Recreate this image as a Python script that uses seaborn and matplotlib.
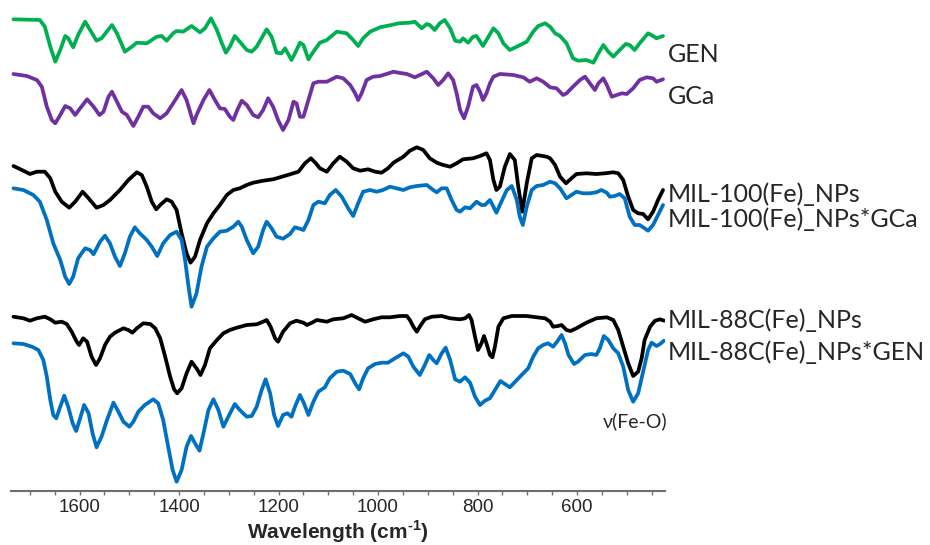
import numpy as np
import pandas as pd
import matplotlib
matplotlib.use("Agg")
import matplotlib.pyplot as plt
import matplotlib.transforms as mtransforms
from matplotlib.ticker import MultipleLocator
import seaborn as sns

# spectra (wavenumber in cm-1, transmittance in a.u.)
gen_wn = [1733, 1680, 1670, 1659, 1649, 1639, 1629, 1623, 1613, 1603,
          1589, 1579, 1566, 1556, 1535, 1525, 1509, 1495, 1485, 1465,
          1445, 1435, 1425, 1412, 1405, 1392, 1375, 1358, 1348, 1336,
          1324, 1314, 1306, 1298, 1288, 1278, 1264, 1254, 1244, 1224,
          1214, 1204, 1194, 1187, 1174, 1167, 1157, 1150, 1140, 1130,
          1117, 1103, 1083, 1063, 1050, 1040, 1030, 1016, 996, 973,
          959, 936, 926, 912, 902, 896, 886, 876, 866, 855,
          845, 835, 829, 819, 809, 802, 789, 778, 768, 758,
          748, 735, 721, 701, 688, 678, 664, 654, 644, 634,
          621, 608, 598, 581, 567, 557, 547, 537, 527, 514,
          502, 494, 484, 474, 457, 447, 440, 427]
gen_t = [0.7, 0, -6.7, -26.7, -41.7, -30, -16, -18.3, -27.3, -15,
         -1.7, -10, -20.7, -18.3, -5, -13.3, -31.7, -26.7, -22.7, -23.3,
         -16.7, -16, -20.7, -13.3, -11, -11.7, -6, -12.3, -8.3, 1.7,
         -10, -23.3, -32.7, -26.7, -16, -21.7, -30, -31.7, -26.7, -9.3,
         -16.7, -32.7, -33.3, -28.3, -40, -33.3, -22.7, -25, -39.3, -31.7,
         -22.7, -20, -11.7, -13.3, -20, -26, -18.3, -11.7, -7.3, -5,
         -3.3, -2.7, -1.7, -8.3, -4, -5, -10, -3.3, 0, -8.3,
         -20.7, -21.7, -18.3, -22.7, -16.7, -16, -26, -16.7, -8.3, -13.3,
         -23.3, -30, -26.7, -21.7, -11.7, -6, -3.3, -6.7, -13.3, -16,
         -23.3, -38.3, -40.7, -40, -42.7, -33.3, -25, -31.7, -36.7, -30,
         -24, -25, -30, -23.3, -13.3, -16, -18.3, -16]

gca_wn = [1733, 1706, 1686, 1676, 1666, 1656, 1649, 1639, 1629, 1619,
          1609, 1599, 1585, 1572, 1560, 1552, 1542, 1535, 1525, 1515,
          1505, 1492, 1482, 1472, 1462, 1452, 1438, 1425, 1412, 1395,
          1385, 1375, 1371, 1365, 1351, 1339, 1328, 1318, 1308, 1298,
          1291, 1283, 1274, 1264, 1251, 1241, 1231, 1221, 1211, 1201,
          1191, 1180, 1170, 1164, 1157, 1150, 1140, 1130, 1120, 1103,
          1083, 1070, 1056, 1046, 1040, 1033, 1023, 1010, 996, 983,
          969, 959, 942, 926, 916, 902, 889, 879, 869, 859,
          849, 842, 835, 827, 819, 809, 802, 795, 789, 782,
          775, 768, 755, 728, 708, 695, 681, 668, 654, 641,
          628, 621, 608, 594, 584, 574, 564, 557, 547, 540,
          530, 520, 510, 500, 487, 474, 460, 447, 440, 427]
gca_t = [1, -1, -5, -11.7, -31.7, -45, -48.3, -40, -31, -33.3,
         -40, -33.3, -24.3, -31.7, -40, -36.7, -21.7, -16.7, -26.7, -36.7,
         -40, -51, -41.7, -31.7, -31.7, -38.3, -43.3, -38.3, -28.3, -15,
         -25, -41.7, -48.3, -40, -25, -15, -25, -33.3, -34, -41.7,
         -45, -35, -25.7, -30, -40, -42.3, -35, -23.3, -31.7, -45,
         -55, -45, -26.7, -28.3, -41.7, -41.7, -25, -8.3, -6.7, -6.7,
         -1.7, -3.3, -10, -18.3, -25, -18.3, -5, -1.7, -1, 1,
         3.3, 2.3, 1, -2.3, 0, 3.3, -3.3, -10, -5, 1.7,
         -5, -18.3, -35, -43.3, -31.7, -11.7, -10, -16.7, -25, -18.3,
         -8.3, -1.7, 1, 0, -2.3, -6.7, -3.3, -6.7, -12.3, -13.3,
         -20, -18.3, -11.7, -5, -1.7, -8.3, -15, -8.3, -3.3, -10,
         -21.7, -20, -18.3, -19, -13.3, -5, -2.3, -3.3, -6.7, -4.3]

mil100_wn = [1733, 1716, 1700, 1686, 1670, 1659, 1649, 1636, 1621, 1609,
             1594, 1582, 1566, 1552, 1539, 1519, 1502, 1485, 1475, 1465,
             1455, 1446, 1438, 1425, 1415, 1405, 1395, 1385, 1377, 1368,
             1358, 1344, 1331, 1318, 1304, 1291, 1278, 1264, 1251, 1231,
             1211, 1197, 1177, 1160, 1147, 1135, 1125, 1117, 1103, 1090,
             1077, 1063, 1050, 1036, 1020, 1006, 993, 980, 969, 949,
             936, 922, 909, 896, 882, 869, 855, 842, 829, 809,
             795, 782, 775, 768, 762, 755, 745, 735, 725, 718,
             710, 701, 691, 681, 661, 654, 644, 634, 622, 611,
             601, 581, 561, 544, 527, 517, 507, 497, 487, 477,
             467, 457, 447, 437, 427]
mil100_t = [-1, -5, -9, -6.7, -6.7, -13.3, -26.7, -36.7, -42.7, -36.7,
            -26.7, -33.3, -42.7, -40, -35, -25, -15, -7.3, -10, -21.7,
            -36.7, -44.3, -40, -34.3, -36.7, -45, -68.3, -88.3, -97.7, -91.7,
            -75, -58.3, -48.3, -40, -30, -25, -23.3, -20, -17.7, -15.7,
            -14.3, -12.3, -9.3, -6.7, 1.7, 6.7, 1.7, -3.3, -6.7, 1.7,
            8.3, 3.3, -3.3, -5.7, -4.3, -6.7, -7.7, -3.3, 2.3, 8.3,
            14.3, 17.7, 15, 6.7, 2.3, 0, -1.7, 1.7, 5.7, 6.7,
            9, 11.7, 5, -15, -25, -21.7, -1.7, 11, 5, -21.7,
            -46.7, -18.3, 6.7, 10, 8.3, 6.7, 0, -11.7, -18.3, -13.3,
            -9, -8.3, -9, -8.3, -7.3, -8.3, -15, -31.7, -45, -48.3,
            -49, -54.3, -46.7, -35, -25]

mil100_gca_wn = [1733, 1713, 1693, 1680, 1666, 1653, 1639, 1629, 1621, 1613,
                 1603, 1589, 1579, 1572, 1559, 1549, 1539, 1529, 1519, 1509,
                 1499, 1489, 1479, 1465, 1455, 1444, 1432, 1418, 1405, 1395,
                 1388, 1381, 1375, 1365, 1355, 1344, 1331, 1318, 1304, 1291,
                 1281, 1274, 1264, 1251, 1241, 1231, 1224, 1214, 1204, 1191,
                 1177, 1167, 1160, 1150, 1140, 1130, 1120, 1107, 1097, 1085,
                 1073, 1060, 1050, 1040, 1030, 1016, 1003, 990, 976, 963,
                 949, 936, 922, 902, 889, 882, 872, 862, 852, 842,
                 835, 825, 815, 802, 792, 785, 775, 768, 762, 752,
                 741, 731, 721, 715, 709, 701, 691, 681, 668, 654,
                 644, 634, 621, 611, 601, 588, 574, 561, 551, 540,
                 534, 524, 514, 504, 494, 484, 474, 464, 457, 447,
                 437, 427]
mil100_gca_t = [1.7, 0, -5, -11.7, -30, -53.3, -70, -86.7, -94, -86.7,
                -68.3, -58.3, -60, -64.3, -51.7, -45.7, -53.3, -66.7, -76, -63.3,
                -46.7, -37.3, -43.3, -50, -56.7, -66, -53.3, -45, -41.7, -50,
                -70, -96.7, -116.7, -103.3, -76.7, -56.7, -48.3, -41.7, -40.7, -36.7,
                -31.7, -36.7, -50, -63.3, -56.7, -40, -31.7, -38.3, -46.7, -48.7,
                -44, -37.3, -38.3, -40, -30, -15, -11.7, -13.3, -5, 0,
                -6.7, -18.3, -26, -13.3, -1.7, 0, -1.7, 0, 3.3, 1.7,
                0, 2.7, 4, 5, 0, -2.3, 1.7, 1.7, -10, -20,
                -21.7, -17.3, -18.3, -11.7, -15, -15, -10, -16.7, -22.7, -11.7,
                0, 4, -10, -26.7, -35, -16.7, 0, 4, 5, 8.3,
                6.7, 1.7, -8.3, -5, -1.7, -3.3, -3.3, -2.3, 0, -2.7,
                -6.7, -6, -4, -8.3, -26.7, -35, -35, -38.3, -40.7, -35,
                -25, -15]

mil88_wn = [1733, 1713, 1700, 1686, 1670, 1659, 1649, 1636, 1626, 1616,
            1606, 1601, 1593, 1585, 1576, 1567, 1559, 1549, 1539, 1529,
            1512, 1502, 1494, 1485, 1472, 1458, 1448, 1438, 1428, 1418,
            1410, 1404, 1395, 1385, 1375, 1365, 1357, 1348, 1338, 1324,
            1311, 1298, 1284, 1264, 1244, 1231, 1224, 1216, 1207, 1201,
            1191, 1177, 1164, 1150, 1143, 1133, 1123, 1103, 1090, 1070,
            1053, 1040, 1026, 1010, 993, 976, 956, 942, 936, 929,
            922, 916, 906, 892, 872, 855, 835, 825, 817, 812,
            805, 799, 792, 787, 782, 775, 770, 765, 758, 748,
            731, 701, 681, 664, 654, 648, 638, 631, 621, 613,
            601, 581, 561, 540, 527, 517, 507, 497, 487, 477,
            470, 464, 453, 443, 433, 425]
mil88_t = [1.3, -0.3, -2.7, -0.3, 1.3, -1.3, -4.7, -3.7, -6, -13.7,
           -23.7, -27, -20.3, -23.7, -38.7, -47, -40.3, -27, -18.7, -14.7,
           -10.3, -12, -14.7, -10.3, -5.3, -6, -10.3, -20.3, -38.7, -58.7,
           -71.3, -75.3, -70.3, -55.3, -43.7, -50.3, -57, -47, -30.3, -22,
           -15.3, -12, -9.7, -7, -6.3, -3.7, -2, -8.7, -20.3, -23.7,
           -13.7, -5.3, -2.7, -4.7, -7, -4.7, -2, -3.7, -1.3, -0.3,
           3, -0.3, -3.7, -1.3, 0.7, 0.7, 2, 2, -2, -8.7,
           -13.7, -8.7, -1.3, 1.3, 2, -0.3, -1.3, -0.3, 3, -2,
           -18.7, -32, -25.3, -18, -25.3, -37, -39.3, -28.7, -8.7, -0.3,
           2, 2, 0.7, -0.3, -3.7, -8.7, -8, -7, -12, -13,
           -10.3, -4.7, -0.3, 0.7, -2, -12, -28.7, -45.3, -58, -53.7,
           -40.3, -22, -8.7, -2.7, -1.3, -2.7]

mil88_gen_wn = [1733, 1713, 1696, 1683, 1673, 1666, 1659, 1653, 1647, 1639,
                1631, 1623, 1614, 1607, 1599, 1591, 1582, 1574, 1566, 1556,
                1545, 1532, 1522, 1512, 1500, 1492, 1482, 1469, 1452, 1442,
                1432, 1422, 1413, 1405, 1395, 1385, 1376, 1368, 1359, 1351,
                1341, 1331, 1321, 1311, 1301, 1288, 1278, 1264, 1254, 1244,
                1234, 1226, 1217, 1209, 1201, 1191, 1182, 1174, 1167, 1157,
                1149, 1140, 1130, 1120, 1107, 1097, 1083, 1070, 1056, 1046,
                1038, 1030, 1020, 1006, 993, 980, 966, 949, 939, 929,
                916, 906, 897, 889, 882, 872, 864, 855, 845, 835,
                825, 815, 805, 795, 785, 775, 765, 754, 745, 735,
                721, 708, 698, 688, 678, 668, 658, 648, 640, 631,
                624, 617, 606, 598, 584, 571, 561, 554, 546, 537,
                527, 517, 507, 497, 487, 477, 467, 457, 450, 440,
                433, 425]
mil88_gen_t = [1.7, 1, -1.7, -5, -15, -31.7, -55, -70, -73.3, -61.7,
               -50.7, -61.7, -78.3, -86, -73.3, -60, -68.3, -88.3, -102.3, -91.7,
               -75, -57.7, -66.7, -76.7, -81.7, -76.7, -66.7, -60, -54.3, -58.3,
               -75, -101.7, -125, -136.7, -125, -101.7, -91, -98.3, -105.7, -88.3,
               -65, -54.3, -65, -81.7, -71.7, -59, -65, -71.7, -71, -61.7,
               -45, -34.3, -48.3, -70, -81, -70, -68.3, -71.7, -61.7, -50,
               -58.3, -70, -56.7, -46.7, -42.3, -33.3, -26.7, -25.7, -29, -38.3,
               -44.3, -33.3, -23.3, -19, -17.7, -17.7, -13.3, -8.3, -11.7, -21.7,
               -30, -20, -10, -15, -18.3, -8.3, -2.7, -15, -34.3, -36.7,
               -32.3, -37.7, -51.7, -60, -55.7, -53.3, -45, -36, -39, -42.3,
               -35, -28.3, -23.3, -11.7, -3.3, 0, 1.7, -1.7, 3.3, 10,
               1.7, -10, -19, -16.7, -10, -9, -10, -3.3, 9, 5,
               -3.3, -8.3, -21.7, -45, -56.7, -48.3, -26.7, -5, 2.3, -1,
               1, 4.3]

names = ["GEN", "GCa", "MIL-100(Fe)_NPs", "MIL-100(Fe)_NPs*GCa",
         "MIL-88C(Fe)_NPs", "MIL-88C(Fe)_NPs*GEN"]
spectra = [(gen_wn, gen_t), (gca_wn, gca_t), (mil100_wn, mil100_t),
           (mil100_gca_wn, mil100_gca_t), (mil88_wn, mil88_t),
           (mil88_gen_wn, mil88_gen_t)]

# stacking and styling
offsets = [-20, -75, -165, -190, -318, -345]
colors = ["#00B050", "#7030A0", "#000000", "#0070C0", "#000000", "#0070C0"]
label_base = [-62, -104, -201.5, -227, -328, -360]  # text baselines

sns.set_style("white")
plt.rcParams["font.family"] = ["Liberation Sans", "DejaVu Sans"]
plt.rcParams["mathtext.fontset"] = "custom"
plt.rcParams["mathtext.rm"] = "Liberation Sans:bold"
plt.rcParams["mathtext.bf"] = "Liberation Sans:bold"

fig = plt.figure(figsize=(9.3, 5.45), dpi=100)
ax = fig.add_axes([11 / 930, 54 / 545, 654 / 930, 481 / 545])

for (wn, t), off, c in zip(spectra, offsets, colors):
    df = pd.DataFrame({"wn": wn, "y": np.array(t) + off})
    sns.lineplot(data=df, x="wn", y="y", color=c, linewidth=2.7,
                 estimator=None, sort=False, ax=ax,
                 solid_joinstyle="round", solid_capstyle="round")

ax.set_xlim(1738, 423)
ax.set_ylim(-491, -10)

for s in ["top", "right", "left"]:
    ax.spines[s].set_visible(False)
ax.spines["bottom"].set_color("#6e6e6e")
ax.spines["bottom"].set_linewidth(1.5)
ax.set_yticks([])
ax.xaxis.set_major_locator(MultipleLocator(200))
ax.xaxis.set_minor_locator(MultipleLocator(50))
ax.tick_params(axis="x", which="both", direction="out", length=3,
               width=1, color="#6e6e6e", bottom=True, labelsize=13.5,
               pad=3)
ax.set_xticks([1600, 1400, 1200, 1000, 800, 600])
for lab in ax.get_xticklabels():
    lab.set_family(["Liberation Sans Narrow", "Liberation Sans"])
ax.set_ylabel("")
ax.set_xlabel("")

# x axis title sits right at the bottom edge, as in the original
fig.text(11 / 930 + 0.5 * 654 / 930, 6 / 545,
         "Wavelength (cm$^{\\text{-1}}$)",
         ha="center", va="baseline", fontsize=15, fontweight="bold")

trans = mtransforms.blended_transform_factory(ax.transAxes, ax.transData)
for name, ly in zip(names, label_base):
    ax.text(1.004, ly, name, transform=trans, ha="left", va="baseline",
            fontsize=18, family=["Lato", "DejaVu Sans"], clip_on=False)

ax.text(484, -421, "ν(Fe-O)", ha="center", va="center", fontsize=14,
        family=["Lato", "DejaVu Sans"])

fig.savefig("out.png", dpi=100)
